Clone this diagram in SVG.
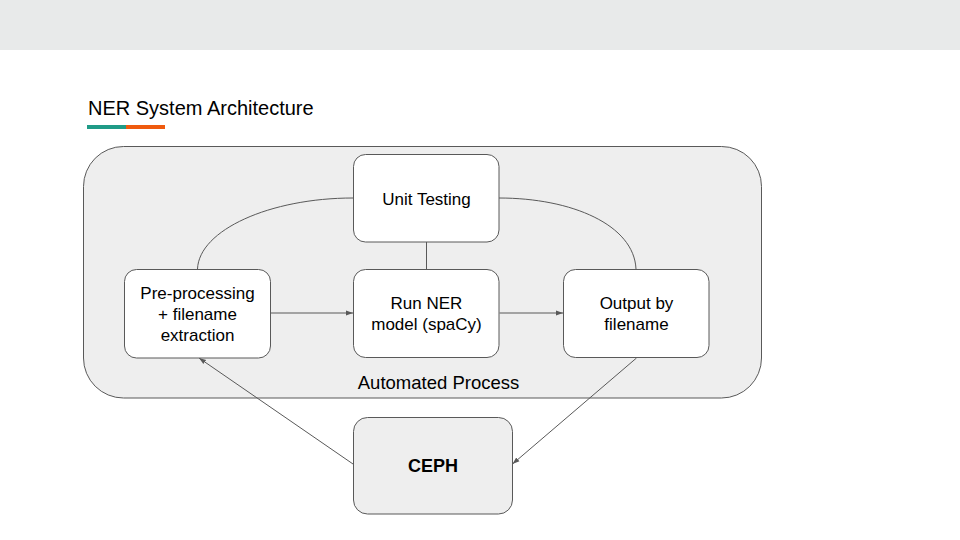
<svg xmlns="http://www.w3.org/2000/svg" width="960" height="540" viewBox="0 0 960 540">
<defs>
<style>
.box{fill:#ffffff;stroke:#595959;stroke-width:1}
.grey{fill:#eeeeee;stroke:#595959;stroke-width:1}
.t{font-family:"Liberation Sans",Arial,sans-serif;font-size:17px;fill:#000000;text-anchor:middle}
.edge{fill:none;stroke:#595959;stroke-width:1}
</style>
<marker id="ah" markerWidth="8" markerHeight="8" refX="7" refY="4" orient="auto" markerUnits="userSpaceOnUse">
<path d="M0,1.5 L7,4 L0,6.5 Z" fill="#595959"/>
</marker>
</defs>
<rect x="0" y="0" width="960" height="540" fill="#ffffff"/>
<rect x="0" y="0" width="960" height="50" fill="#e8eaea"/>
<g id="title">
<text x="88" y="115" font-family="'Liberation Sans',Arial,sans-serif" font-size="20" fill="#000000">NER System Architecture</text>
<rect x="87" y="125" width="39" height="4" fill="#1f9b87"/>
<rect x="126" y="125" width="39" height="4" fill="#ef5a0e"/>
</g>
<g id="automated-process">
<rect class="grey" x="83.5" y="146.5" width="678" height="251.5" rx="40" ry="40"/>
<text class="t" x="438.5" y="389" font-size="18.5" style="font-size:18.5px">Automated Process</text>
</g>
<g id="connectors">
<path class="edge" d="M197.5,269 C199,230 270,198 353,198"/>
<path class="edge" d="M499,198 C572,198 634,225 636,269"/>
<line class="edge" x1="426.5" y1="242" x2="426.5" y2="269"/>
<line class="edge" x1="270.5" y1="313" x2="353" y2="313" marker-end="url(#ah)"/>
<line class="edge" x1="499.5" y1="313" x2="563" y2="313" marker-end="url(#ah)"/>
<line class="edge" x1="353" y1="464" x2="199" y2="358" marker-end="url(#ah)"/>
<line class="edge" x1="636.5" y1="358" x2="512.5" y2="464" marker-end="url(#ah)"/>
</g>
<g id="unit-testing">
<rect class="box" x="353.5" y="154.5" width="145.5" height="87.5" rx="12" ry="12"/>
<text class="t" x="426.5" y="205">Unit Testing</text>
</g>
<g id="pre-processing">
<rect class="box" x="124.5" y="269.5" width="146" height="88.5" rx="12" ry="12"/>
<text class="t" x="197.5" y="299">Pre-processing</text>
<text class="t" x="197.5" y="320">+ filename</text>
<text class="t" x="197.5" y="341">extraction</text>
</g>
<g id="run-ner">
<rect class="box" x="353.5" y="269.5" width="145.5" height="88" rx="12" ry="12"/>
<text class="t" x="426.5" y="309">Run NER</text>
<text class="t" x="426.5" y="330">model (spaCy)</text>
</g>
<g id="output">
<rect class="box" x="563.5" y="269.5" width="145.5" height="88" rx="12" ry="12"/>
<text class="t" x="636.5" y="309">Output by</text>
<text class="t" x="636.5" y="330">filename</text>
</g>
<g id="ceph">
<rect class="grey" x="353.5" y="417.5" width="159" height="96.5" rx="14" ry="14"/>
<text class="t" x="433" y="472" style="font-size:18px;font-weight:bold">CEPH</text>
</g>
</svg>
